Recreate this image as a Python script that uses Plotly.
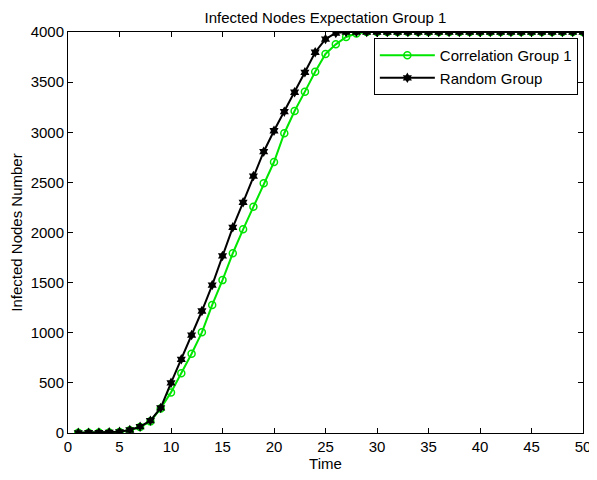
import plotly.graph_objects as go

time = list(range(1, 51))
random_group = [2, 3, 4, 6, 12, 30, 63, 123, 250, 500, 735, 977, 1217, 1476, 1766,
                2052, 2301, 2563, 2806, 3015, 3205, 3399, 3598, 3798, 3930, 3990] + [4000] * 24
correlation_group = [2, 3, 4, 6, 10, 28, 60, 116, 245, 405, 595, 790, 1004, 1277, 1525,
                     1793, 2032, 2257, 2491, 2703, 2990, 3212, 3405, 3604, 3781, 3877,
                     3950, 3985] + [4000] * 22
x_ticks = [0, 5, 10, 15, 20, 25, 30, 35, 40, 45, 50]
y_ticks = [0, 500, 1000, 1500, 2000, 2500, 3000, 3500, 4000]

font = "Liberation Sans, Arial, sans-serif"

fig = go.Figure()
fig.add_trace(go.Scatter(
    x=time, y=correlation_group, name="Correlation Group 1", mode="lines+markers",
    line=dict(color="#00e600", width=2),
    marker=dict(symbol="circle-open", size=7, color="#00e600", line=dict(width=1.5)),
))
fig.add_trace(go.Scatter(
    x=time, y=random_group, name="Random Group", mode="lines+markers",
    line=dict(color="black", width=2),
    marker=dict(symbol="hexagram", size=8, color="black"),
))

axis_common = dict(
    showline=True, linecolor="black", linewidth=1, mirror="ticks",
    ticks="inside", ticklen=5, tickcolor="black", showgrid=False, zeroline=False,
    automargin=False, ticklabeloverflow="allow",
    tickfont=dict(family=font, size=15, color="black"),
)
fig.update_layout(
    width=589, height=464,
    margin=dict(l=60, r=14, t=24, b=39),
    paper_bgcolor="white", plot_bgcolor="white",
    title=dict(text="Infected Nodes Expectation Group 1", xref="paper", x=0.5, xanchor="center",
               y=0.99, yanchor="top", font=dict(family=font, size=15, color="black")),
    xaxis=dict(range=[0, 50], tickvals=x_ticks, title=dict(text="Time", standoff=6,
               font=dict(family=font, size=15, color="black")), **axis_common),
    yaxis=dict(range=[0, 4000], tickvals=y_ticks, title=dict(text="Infected Nodes Number", standoff=11,
               font=dict(family=font, size=15, color="black")), **axis_common),
    legend=dict(x=0.99, y=0.985, xanchor="right", yanchor="top", bgcolor="white",
                bordercolor="black", borderwidth=1, itemwidth=55,
                font=dict(family=font, size=15, color="black"),
                tracegroupgap=0),
    showlegend=True,
)
fig.write_html("out.html")
